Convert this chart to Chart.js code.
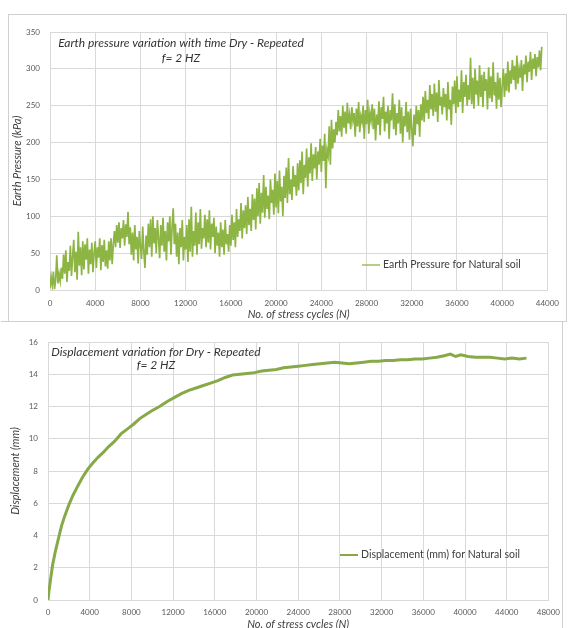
<!DOCTYPE html>
<html>
<head>
<meta charset="utf-8">
<script src="https://cdn.jsdelivr.net/npm/chart.js@4.4.0/dist/chart.umd.min.js"></script>
<style>
  body { margin: 0; background: #fff; }
  #page { position: relative; width: 568px; height: 628px; overflow: hidden; background: #fff; }
  .frame { position: absolute; border: 1px solid #d0d0d0; }
  canvas { position: absolute; left: 0; }
</style>
</head>
<body>
<div id="page">
  <div class="frame" style="left:8px;top:14px;width:557px;height:306px;"></div>
  <div class="frame" style="left:1px;top:321px;width:561px;height:320px;border-left:none;"></div>
  <canvas id="pressureChart" width="568" height="321" style="top:0"></canvas>
  <canvas id="dispChart" width="568" height="306" style="top:322px"></canvas>
</div>
<script>
// ---- data ----
const pressureTitle = ['Earth pressure variation with time Dry - Repeated', 'f= 2 HZ'];
const pressureLabel = 'Earth Pressure for Natural soil';
const pressureStep = 100; // cycles between samples
const pressureValues = [
  3, 18, 6, 25, 1, 14, 47, 9, 22, 12,
  30, 15, 48, 22, 54, 11, 38, 26, 60, 19,
  45, 68, 24, 52, 14, 79, 33, 58, 20, 66,
  28, 62, 41, 70, 22, 55, 35, 64, 24, 50,
  66, 30, 58, 44, 70, 27, 61, 38, 68, 32,
  54, 29, 66, 40, 70, 35, 62, 80, 58, 88,
  64, 92, 57, 84, 70, 95, 60, 89, 72, 106,
  62, 85, 48, 78, 40, 88, 55, 72, 36, 80,
  60, 42, 86, 52, 30, 74, 48, 90, 58, 96,
  45, 100, 63, 84, 50, 95, 70, 43, 88, 60,
  98, 52, 80, 40, 92, 66, 100, 48, 85, 111,
  62, 90, 45, 78, 35, 84, 58, 95, 40, 72,
  55, 88, 38, 96, 52, 113, 45, 80, 60, 105,
  48, 92, 62, 110, 56, 84, 70, 102, 58, 96,
  64, 108, 55, 90, 72, 98, 50, 86, 60, 78,
  45, 92, 58, 82, 48, 95, 62, 76, 52, 88,
  60, 102, 68, 92, 58, 110, 72, 96, 80, 118,
  70, 108, 84, 115, 76, 126, 88, 110, 80, 130,
  95, 124, 82, 138, 100, 145, 90, 132, 105, 156,
  98, 140, 110, 128, 96, 150, 118, 136, 102, 158,
  112, 148, 104, 162, 120, 140, 100, 155, 125, 166,
  118, 179, 130, 150, 122, 168, 140, 156, 128, 172,
  135, 176, 145, 188, 130, 170, 152, 192, 140, 180,
  158, 199, 148, 184, 165, 194, 150, 188, 170, 205,
  160, 196, 175, 212, 138, 190, 182, 222, 170, 231,
  192, 218, 200, 228, 210, 244, 215, 236, 208, 250,
  220, 242, 212, 254, 226, 238, 218, 248, 230, 240,
  208, 246, 222, 255, 214, 236, 228, 250, 205, 244,
  225, 258, 212, 240, 230, 252, 218, 246, 203, 238,
  224, 256, 210, 248, 232, 262, 215, 242, 226, 250,
  205, 244, 230, 267, 218, 252, 210, 240, 226, 258,
  212, 248, 200, 236, 222, 255, 214, 242, 204, 246,
  218, 195, 238, 210, 250, 225, 244, 208, 252, 230,
  262, 228, 270, 240, 258, 232, 278, 245, 266, 236,
  280, 242, 268, 228, 285, 250, 262, 238, 274, 248,
  266, 230, 282, 245, 258, 224, 276, 252, 284, 240,
  290, 248, 272, 255, 298, 240, 282, 262, 292, 250,
  278, 258, 315, 252, 288, 246, 300, 265, 284, 250,
  305, 262, 292, 248, 296, 270, 286, 245, 302, 260,
  290, 255, 309, 264, 282, 246, 295, 258, 288, 248,
  276, 300, 262, 294, 270, 310, 268, 298, 280, 312,
  285, 304, 272, 318, 280, 300, 288, 312, 270, 306,
  292, 318, 282, 310, 296, 323, 285, 314, 300, 320,
  290, 316, 302, 325, 298, 330
];
const pressureXTicks = [0, 4000, 8000, 12000, 16000, 20000, 24000, 28000, 32000, 36000, 40000, 44000];
const pressureYTicks = [0, 50, 100, 150, 200, 250, 300, 350];

const dispTitle = ['Displacement variation for Dry - Repeated', 'f= 2 HZ'];
const dispLabel = 'Displacement (mm) for Natural soil';
const dispCycles = [
  0, 100, 250, 450, 700, 1000, 1300, 1600, 2000, 2400,
  2800, 3300, 3800, 4300, 4800, 5300, 5800, 6400, 7000, 7600,
  8200, 8800, 9400, 10000, 10700, 11400, 12100, 12800, 13500, 14200,
  14900, 15600, 16300, 17000, 17700, 18400, 19100, 19800, 20500, 21200,
  21900, 22600, 23300, 24000, 24700, 25400, 26100, 26800, 27500, 28200,
  28900, 29600, 30300, 31000, 31700, 32400, 33100, 33800, 34500, 35200,
  35900, 36600, 37300, 38000, 38600, 39100, 39600, 40300, 41000, 41700,
  42400, 43100, 43800, 44500, 45200, 45900
];
const dispValues = [
  0.0, 0.6, 1.3, 2.2, 3.0, 3.8, 4.6, 5.2, 5.9, 6.5,
  7.0, 7.6, 8.1, 8.5, 8.85, 9.15, 9.5, 9.85, 10.3, 10.6,
  10.9, 11.25, 11.5, 11.75, 12.0, 12.3, 12.55, 12.8, 13.0, 13.15,
  13.3, 13.45, 13.6, 13.8, 13.95, 14.0, 14.05, 14.1, 14.2, 14.25,
  14.3, 14.4, 14.45, 14.5, 14.55, 14.6, 14.65, 14.7, 14.75, 14.7,
  14.65, 14.7, 14.75, 14.8, 14.8, 14.85, 14.85, 14.9, 14.9, 14.95,
  14.95, 15.0, 15.05, 15.15, 15.25, 15.1, 15.2, 15.1, 15.05, 15.05,
  15.05, 15.0, 14.95, 15.0, 14.95, 15.0
];
const dispXTicks = [0, 4000, 8000, 12000, 16000, 20000, 24000, 28000, 32000, 36000, 40000, 44000, 48000];
const dispYTicks = [0, 2, 4, 6, 8, 10, 12, 14, 16];

// ---- styling ----
const FONT = 'Lato, "Open Sans", sans-serif';
const GRID = '#d9d9d9';
const TICK = '#595959';
const TEXT = '#404040';

// title + legend drawn inside the plot, like the Excel original
const overlayText = {
  id: 'overlayText',
  afterDraw(chart, args, opts) {
    const ctx = chart.ctx;
    const ds = chart.data.datasets[0];
    ctx.save();
    ctx.fillStyle = '#333';
    ctx.font = 'italic 12px ' + FONT;
    ctx.textAlign = 'center';
    ctx.textBaseline = 'middle';
    opts.title.forEach((line, i) => ctx.fillText(line, opts.titleX, opts.titleY + i * opts.titleGap));

    ctx.strokeStyle = ds.borderColor;
    ctx.lineWidth = opts.legendWidth;
    ctx.beginPath();
    ctx.moveTo(opts.legendX, opts.legendY);
    ctx.lineTo(opts.legendX + 18, opts.legendY);
    ctx.stroke();
    ctx.fillStyle = TEXT;
    ctx.font = '10.5px ' + FONT;
    ctx.textAlign = 'left';
    ctx.fillText(ds.label, opts.legendX + 21, opts.legendY);
    ctx.restore();
  }
};

function axis(min, max, tickList, title, opts) {
  return {
    type: 'linear', min: min, max: max,
    afterBuildTicks: s => { s.ticks = tickList.map(v => ({ value: v })); },
    afterFit: opts.fit,
    grid: { color: GRID, drawTicks: false },
    border: { color: GRID },
    ticks: {
      color: TICK, font: { size: 8, family: FONT }, padding: opts.pad,
      autoSkip: false, maxRotation: 0, callback: v => String(v)
    },
    title: { display: true, text: title, color: TEXT, font: { size: 11, style: 'italic', family: FONT }, padding: opts.titlePad }
  };
}

function buildChart(canvasId, points, label, color, width, scales, padding, overlay) {
  return new Chart(document.getElementById(canvasId), {
    type: 'line',
    data: {
      datasets: [{
        label: label,
        data: points,
        borderColor: color,
        borderWidth: width,
        pointRadius: 0,
        tension: 0,
        fill: false
      }]
    },
    options: {
      responsive: false,
      animation: false,
      parsing: false,
      layout: { padding: padding },
      scales: scales,
      plugins: {
        legend: { display: false },
        tooltip: { enabled: false },
        overlayText: overlay
      }
    },
    plugins: [overlayText]
  });
}

const pressurePoints = pressureValues.map((v, i) => ({ x: i * pressureStep, y: v }));
buildChart('pressureChart', pressurePoints, pressureLabel, '#8db543', 1.7, {
  x: axis(0, 44000, pressureXTicks, 'No. of stress cycles (N)', { fit: s => { s.height = 31; }, pad: 9, titlePad: { top: 0, bottom: 0 } }),
  y: axis(0, 350, pressureYTicks, 'Earth Pressure (kPa)', { fit: s => { s.width = 44; }, pad: 10, titlePad: { top: 5, bottom: 0 } })
}, { left: 6, right: 13, top: 32, bottom: 0 }, {
  title: pressureTitle, titleX: 181, titleY: 43, titleGap: 15, legendX: 362, legendY: 265, legendWidth: 1.3
});

const dispPoints = dispCycles.map((c, i) => ({ x: c, y: dispValues[i] }));
buildChart('dispChart', dispPoints, dispLabel, '#88a948', 3, {
  x: axis(0, 48000, dispXTicks, 'No. of stress cycles (N)', { fit: s => { s.height = 28; }, pad: 8, titlePad: { top: 0, bottom: -3 } }),
  y: axis(0, 16, dispYTicks, 'Displacement (mm)', { fit: s => { s.width = 44; }, pad: 10, titlePad: { top: 5, bottom: 0 } })
}, { left: 4, right: 12, top: 20, bottom: 0 }, {
  title: dispTitle, titleX: 156, titleY: 30, titleGap: 13, legendX: 340, legendY: 233, legendWidth: 2
});
</script>
</body>
</html>
